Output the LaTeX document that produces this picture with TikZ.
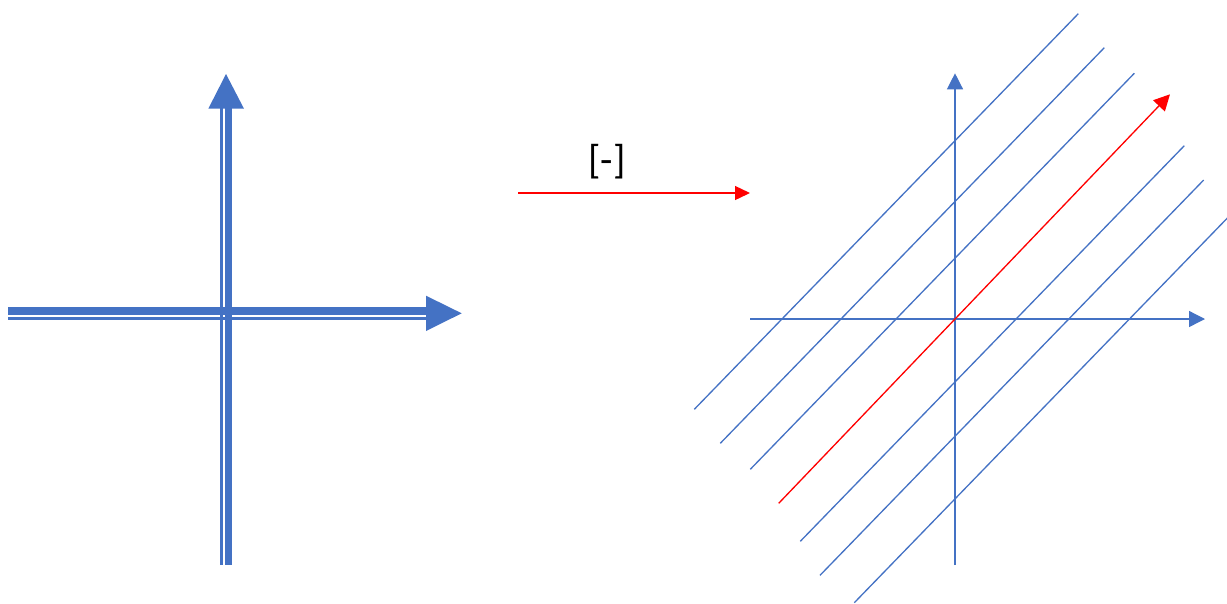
\documentclass[tikz,border=0pt]{standalone}
\usepackage{fontspec}
\setmainfont{Carlito}
\definecolor{axblue}{HTML}{4472C4}
\definecolor{mapred}{HTML}{FF0000}
\usetikzlibrary{arrows.meta}

\begin{document}
\begin{tikzpicture}[x=0.02cm,y=-0.02cm,
    thickax/.style={axblue,line width=0.15cm},
    thinax/.style={axblue,line width=0.05cm},
    ax/.style={axblue,line width=0.75pt,-{Triangle[length=0.32cm,width=0.32cm]}},
    level/.style={axblue,line width=0.75pt},
    redarr/.style={mapred,line width=0.75pt,-{Triangle[length=0.32cm,width=0.32cm]}},
    op/.style={font=\fontsize{23}{28}\selectfont,inner sep=0pt}]
    \useasboundingbox (0,0) rectangle (1227,603);
    % left: double-line axes
    \draw[thickax] (8,310.8) -- (427,310.8);
    \draw[thinax] (8,318.3) -- (427,318.3);
    \fill[axblue] (426,295.7) -- (461.7,313.3) -- (426,331) -- cycle;
    \draw[thickax] (228.7,564.7) -- (228.7,107);
    \draw[thinax] (221.3,564.7) -- (221.3,107);
    \fill[axblue] (208.3,108.7) -- (226,74) -- (244,108.7) -- cycle;
    % map
    \coordinate (ms) at (518,193);
    \coordinate (mt) at (750,193);
    \draw[redarr,-{Triangle[length=0.3cm,width=0.28cm]}] (ms) -- (mt);
    \node[op] (lbl) at (607,162) {[-]};
    % right: axes and shifted lines
    \coordinate (xs) at (750,319);
    \coordinate (xt) at (1205,319);
    \coordinate (ys) at (955,565);
    \coordinate (yt) at (955,73.3);
    \draw[ax] (xs) -- (xt);
    \draw[ax] (ys) -- (yt);
    \foreach \xa/\ya/\xb/\yb in {694.3/409.3/1078.3/13.7,720.3/443.3/1104.3/47.7,
        750.3/469.3/1134.3/73.3,800.3/541.3/1184.3/145.7,820/575.3/1203.7/180,
        854.3/602.7/1240/205}
      \draw[level] (\xa,\ya) -- (\xb,\yb);
    \coordinate (ds) at (778.7,503.3);
    \coordinate (dt) at (1170,94.3);
    \draw[redarr] (ds) -- (dt);
  \end{tikzpicture}
\end{document}
